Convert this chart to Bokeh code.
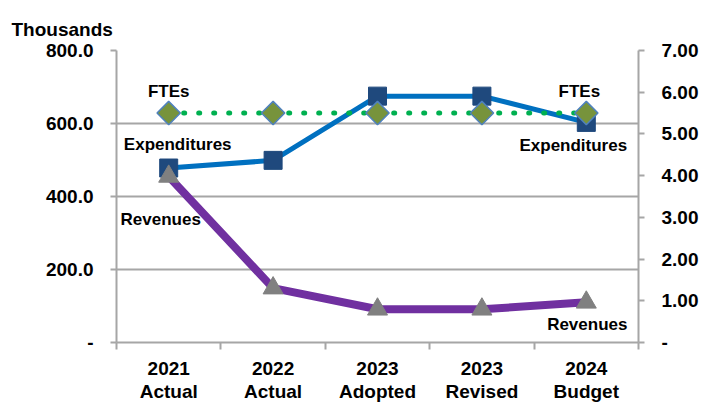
from bokeh.plotting import figure
from bokeh.models import Range1d, LinearAxis, FixedTicker, NumeralTickFormatter, Grid, Title
from bokeh.core.properties import value
from bokeh.embed import file_html
from bokeh.resources import INLINE
import math

# ---- data ----
categories = ["2021\nActual", "2022\nActual", "2023\nAdopted", "2023\nRevised", "2024\nBudget"]
expenditures = [478, 499, 675, 675, 603]      # thousands (left axis)
revenues = [455, 149, 91, 91, 110]            # thousands (left axis)
ftes = [5.5, 5.5, 5.5, 5.5, 5.5]              # right axis
left_ticks = [0, 200, 400, 600, 800]
right_ticks = [0, 1, 2, 3, 4, 5, 6, 7]

FONT = "Liberation Sans"
GRAY = "#A6A6A6"
xs = list(range(len(categories)))

p = figure(frame_width=522, frame_height=292,
           min_border_left=116, min_border_top=50, min_border_right=60, min_border_bottom=50,
           x_range=Range1d(-0.5, len(categories) - 0.5), y_range=Range1d(0, 800),
           output_backend="svg", toolbar_location=None,
           x_axis_type=None, y_axis_type=None)
p.outline_line_color = None
p.background_fill_color = "white"
p.border_fill_color = "white"
p.extra_y_ranges = {"fte": Range1d(0, 7)}

# spacer (closest to frame) then the unit title above it
p.add_layout(Title(text=" ", text_font_size="8px", standoff=0), "above")
p.add_layout(Title(text="Thousands", align="left", offset=-105, standoff=0,
                   text_font=FONT, text_font_style="bold", text_font_size="19px",
                   text_color="black"), "above")

def style_axis(ax):
    ax.axis_line_color = GRAY
    ax.axis_line_width = 2
    ax.major_tick_line_color = GRAY
    ax.major_tick_line_width = 2
    ax.minor_tick_line_color = GRAY
    ax.minor_tick_line_width = 2
    ax.major_label_text_font = FONT
    ax.major_label_text_font_style = "bold"
    ax.major_label_text_font_size = "19px"
    ax.major_label_text_color = "black"

# left axis
yl = LinearAxis(ticker=FixedTicker(ticks=left_ticks, minor_ticks=[]),
                formatter=NumeralTickFormatter(format="0.0"),
                major_label_overrides={0: "-"})
style_axis(yl)
yl.major_tick_out = 6
yl.major_tick_in = 0
yl.major_label_standoff = 17
p.add_layout(yl, "left")

# right axis
yr = LinearAxis(y_range_name="fte", ticker=FixedTicker(ticks=right_ticks, minor_ticks=[]),
                formatter=NumeralTickFormatter(format="0.00"),
                major_label_overrides={0: "-"})
style_axis(yr)
yr.major_tick_out = 6
yr.major_tick_in = 0
yr.major_label_standoff = 17
p.add_layout(yr, "right")

# bottom axis
bounds = [i - 0.5 for i in range(len(categories) + 1)]
xb = LinearAxis(ticker=FixedTicker(ticks=xs, minor_ticks=bounds),
                major_label_overrides={i: c for i, c in zip(xs, categories)})
style_axis(xb)
xb.major_tick_out = 0
xb.major_tick_in = 0
xb.minor_tick_out = 7
xb.minor_tick_in = 0
xb.major_label_standoff = 8
xb.major_label_text_line_height = 1.1
p.add_layout(xb, "below")

# grid
g = Grid(dimension=1, ticker=FixedTicker(ticks=left_ticks))
g.grid_line_color = GRAY
g.grid_line_width = 2
p.add_layout(g)

# Expenditures
p.line(xs, expenditures, line_color="#0070C0", line_width=5)
p.scatter(xs, expenditures, marker="square", size=18, fill_color="#1F497D", line_color="#1F497D")

# Revenues
p.line(xs, revenues, line_color="#7030A0", line_width=8)
p.scatter(xs, revenues, marker="triangle", size=20, fill_color="#808080", line_color="#808080")

# FTEs
p.line(xs, ftes, y_range_name="fte", line_color="#00B050", line_width=5,
       line_dash="1 14", line_cap="round")
p.scatter(xs, ftes, y_range_name="fte", marker="square", angle=math.pi / 4, size=16.5,
          fill_color="#77933C", line_color="#4F81BD", line_width=1.5)

# data labels
def lab(x, y, text, dx, dy, rng="default"):
    p.text(x=[x], y=[y], text=[text], x_offset=dx, y_offset=dy, y_range_name=rng,
           text_align="center", text_baseline="middle",
           text_font=value(FONT), text_font_style="bold",
           text_font_size=value("17px"), text_color="black")

last = len(xs) - 1
lab(xs[0], ftes[0], "FTEs", 0, -22, "fte")
lab(xs[last], ftes[last], "FTEs", -7, -22, "fte")
lab(xs[0], expenditures[0], "Expenditures", 9, -24)
lab(xs[last], expenditures[last], "Expenditures", -13, 23)
lab(xs[0], revenues[0], "Revenues", -8, 43)
lab(xs[last], revenues[last], "Revenues", 1, 22)

open("out.html", "w").write(file_html(p, INLINE))
